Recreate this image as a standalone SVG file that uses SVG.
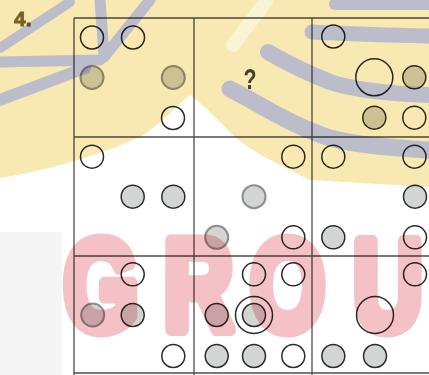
<svg xmlns="http://www.w3.org/2000/svg" width="429" height="375" viewBox="0 0 429 375">
<style>
.grid{stroke:#4d4d4d;stroke-width:1.3;fill:none}
.w{fill:#ffffff;stroke:#2b2b2b;stroke-width:1.5}
.g{fill:#d3d4d4;stroke:#2b2b2b;stroke-width:1.5}
.gl{fill:#d3d4d4;stroke:#8e8e8e;stroke-width:2}
.lbl{font-family:"Liberation Sans",Arial,sans-serif;font-weight:bold}
.mul{mix-blend-mode:multiply}
.streak{fill:none;stroke:#bcbdcb;stroke-linecap:round;stroke-linejoin:round}
.wm{font-family:"Liberation Sans",Arial,sans-serif;font-weight:bold;font-size:128px;fill:#f4c2c6;stroke:#f4c2c6;stroke-width:13;stroke-linejoin:round;text-anchor:middle}
</style>
<rect width="429" height="375" fill="#ffffff"/>
<rect x="0" y="232" width="62" height="143" fill="#f5f5f5"/>

<g id="connectors">
  <path class="grid" d="M74,18 H429 M74,137 H429 M74,256 H429 M74,373 H429 M74,18 V375 M194,18 V375 M312,18 V375"/>
</g>

<text class="lbl" x="14" y="25.5" font-size="21" fill="#7a6a32" stroke="#7a6a32" stroke-width="0.8">4.</text>

<g id="cell-r1c1">
  <circle class="w" cx="92" cy="37.5" r="11.5"/>
  <circle class="w" cx="133" cy="37.5" r="11.5"/>
  <circle class="gl" cx="92" cy="77.5" r="11.5"/>
  <circle class="gl" cx="173.3" cy="77.5" r="11.5"/>
  <circle class="w" cx="173" cy="118" r="11.5"/>
</g>
<g id="cell-r1c2">
  <text class="lbl" x="250" y="89" font-size="30" fill="#4a4434" text-anchor="middle" textLength="13" lengthAdjust="spacingAndGlyphs">?</text>
</g>
<g id="cell-r1c3">
  <circle class="w" cx="333.3" cy="36.5" r="11.5"/>
  <circle class="w" cx="374.3" cy="77.3" r="18.5"/>
  <circle class="g" cx="414.3" cy="77.3" r="11.5"/>
  <circle class="g" cx="374.3" cy="117.7" r="11.5"/>
  <circle class="w" cx="414.3" cy="117.7" r="11.5"/>
</g>
<g id="cell-r2c1">
  <circle class="w" cx="92" cy="156.7" r="11.5"/>
  <circle class="g" cx="132.7" cy="196.7" r="11.5"/>
  <circle class="g" cx="173.3" cy="196.7" r="11.5"/>
</g>
<g id="cell-r2c2">
  <circle class="w" cx="293.3" cy="156.7" r="11.5"/>
  <circle class="gl" cx="254" cy="196.7" r="11.5"/>
  <circle class="gl" cx="216.7" cy="237.3" r="11.5"/>
  <circle class="w" cx="293.3" cy="237.3" r="11.5"/>
</g>
<g id="cell-r2c3">
  <circle class="w" cx="333.3" cy="156.7" r="11.5"/>
  <circle class="w" cx="414.5" cy="156.7" r="11.5"/>
  <circle class="g" cx="415" cy="196.7" r="11.5"/>
  <circle class="g" cx="333.3" cy="237.3" r="11.5"/>
  <circle class="w" cx="415" cy="237.3" r="11.5"/>
</g>
<g id="cell-r3c1">
  <circle class="w" cx="132.7" cy="274.3" r="11.5"/>
  <circle class="gl" cx="92.7" cy="315" r="11.5"/>
  <circle class="g" cx="132.7" cy="315" r="11.5"/>
  <circle class="w" cx="173.3" cy="356" r="11.5"/>
</g>
<g id="cell-r3c2">
  <circle class="w" cx="254" cy="274.3" r="11.5"/>
  <circle class="w" cx="293.3" cy="274.3" r="11.5"/>
  <circle class="g" cx="216.7" cy="315" r="11.5"/>
  <circle class="w" cx="254" cy="315" r="18.5"/>
  <circle class="g" cx="254" cy="315" r="11.5"/>
  <circle class="g" cx="216.7" cy="356" r="11.5"/>
  <circle class="g" cx="254" cy="356" r="11.5"/>
  <circle class="w" cx="293.3" cy="356" r="11.5"/>
</g>
<g id="cell-r3c3">
  <circle class="w" cx="415" cy="274.3" r="11.5"/>
  <circle class="w" cx="375" cy="315" r="18.5"/>
  <circle class="g" cx="333.3" cy="356" r="11.5"/>
  <circle class="g" cx="375" cy="356" r="11.5"/>
</g>

<g id="watermark-logo" class="mul">
  <path fill="#f8e9b2" d="M0,0 H429 V187 L310,180 C280,165 252,152 235,137 C220,122 205,106 190,95 C176,106 160,125 140,137 C100,155 50,170 0,178 Z"/>
  <path d="M267,0 L233,45" stroke="#ffffff" stroke-width="14" stroke-linecap="round" fill="none" opacity="0.45"/>
  <path class="streak" stroke-width="11" d="M0,62 L100,60"/>
  <path class="streak" stroke-width="12" d="M0,100 L85,68"/>
  <path class="streak" stroke-width="10" d="M0,48 L70,2"/>
  <path class="streak" stroke-width="11" d="M100,0 L104,55"/>
  <path class="streak" stroke-width="11" d="M104,57 L150,0"/>
  <path class="streak" stroke-width="16" d="M268,52 C285,62 300,70 330,82 C360,92 400,94 429,95"/>
  <path class="streak" stroke-width="17" d="M230,89 C260,104 290,125 330,138 C360,146 400,148 429,150"/>
  <path class="streak" stroke-width="15" d="M312,32 C350,34 390,35 429,36"/>
  <path class="streak" stroke-width="12" d="M335,4 L429,4"/>
</g>

<g id="watermark-text" class="mul">
  <text class="wm" transform="translate(101,330) scale(0.75,1)" x="0" y="0">G</text>
  <text class="wm" transform="translate(198.5,330) scale(0.75,1)" x="0" y="0">R</text>
  <text class="wm" transform="translate(287.5,330) scale(0.75,1)" x="0" y="0">O</text>
  <text class="wm" transform="translate(388,330) scale(0.75,1)" x="0" y="0">U</text>
</g>
</svg>
